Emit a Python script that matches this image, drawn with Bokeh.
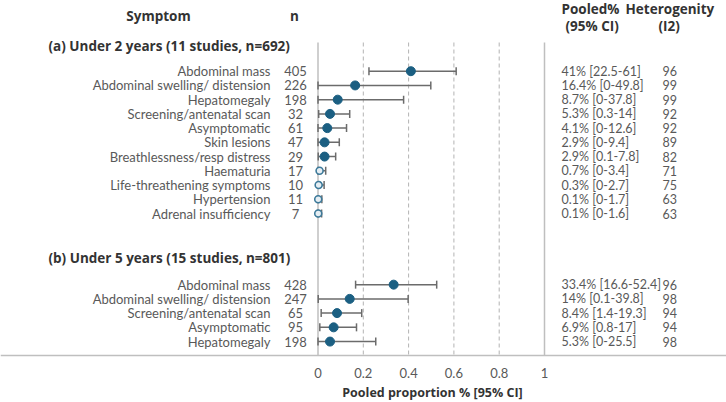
from bokeh.plotting import figure
from bokeh.models import Range1d, ColumnDataSource
from bokeh.core.properties import value
from bokeh.embed import file_html
from bokeh.resources import INLINE

# ---------------- data ----------------
symptoms_a = ["Abdominal mass", "Abdominal swelling/ distension", "Hepatomegaly",
              "Screening/antenatal scan", "Asymptomatic", "Skin lesions",
              "Breathlessness/resp distress", "Haematuria", "Life-threathening symptoms",
              "Hypertension", "Adrenal insufficiency"]
n_a = [405, 226, 198, 32, 61, 47, 29, 17, 10, 11, 7]
pooled_a = [41, 16.4, 8.7, 5.3, 4.1, 2.9, 2.9, 0.7, 0.3, 0.1, 0.1]
lo_a = [22.5, 0, 0, 0.3, 0, 0, 0.1, 0, 0, 0, 0]
hi_a = [61, 49.8, 37.8, 14, 12.6, 9.4, 7.8, 3.4, 2.7, 1.7, 1.6]
i2_a = [96, 99, 99, 92, 92, 89, 82, 71, 75, 63, 63]

symptoms_b = ["Abdominal mass", "Abdominal swelling/ distension", "Screening/antenatal scan",
              "Asymptomatic", "Hepatomegaly"]
n_b = [428, 247, 65, 95, 198]
pooled_b = [33.4, 14, 8.4, 6.9, 5.3]
lo_b = [16.6, 0.1, 1.4, 0.8, 0]
hi_b = [52.4, 39.8, 19.3, 17, 25.5]
i2_b = [96, 98, 94, 94, 98]

ticks = [0, 0.2, 0.4, 0.6, 0.8, 1]
tick_labels = ["0", "0.2", "0.4", "0.6", "0.8", "1"]

title_a = "(a) Under 2 years (11 studies, n=692)"
title_b = "(b) Under 5 years (15 studies, n=801)"
x_title = "Pooled proportion % [95% CI]"

# ---------------- layout helpers ----------------
W, H = 726, 402
X0_PX, X1_PX = 317.5, 544.0          # pixel positions of 0 and 1
PPU = X1_PX - X0_PX


def px2x(px):
    return (px - X0_PX) / PPU


ROW0_PX, ROW_STEP = 70.7, 14.23      # row index -> pixel


def px2y(py):
    return (py - ROW0_PX) / ROW_STEP


B_START = 15

rows_y = list(range(len(symptoms_a))) + [B_START + i for i in range(len(symptoms_b))]
labels = symptoms_a + symptoms_b
ns = n_a + n_b
pooled = pooled_a + pooled_b
lo = lo_a + lo_b
hi = hi_a + hi_b
i2 = i2_a + i2_b


def fmt(v):
    return f"{v:g}"


ci_text = [f"{fmt(p)}% [{fmt(l)}-{fmt(h)}]" for p, l, h in zip(pooled, lo, hi)]

src = ColumnDataSource(dict(
    y=rows_y, label=labels, n=[str(v) for v in ns],
    est=[v / 100 for v in pooled], lo=[v / 100 for v in lo], hi=[v / 100 for v in hi],
    ci=ci_text, i2=[str(v) for v in i2],
))
filled_idx = [i for i, v in enumerate(pooled) if v >= 1]
open_idx = [i for i, v in enumerate(pooled) if v < 1]


def sub(idx):
    d = {k: [src.data[k][i] for i in idx] for k in src.data}
    return ColumnDataSource(d)


p = figure(width=W, height=H, output_backend="svg", toolbar_location=None,
           x_range=Range1d(px2x(0), px2x(W)), y_range=Range1d(px2y(H), px2y(0)),
           min_border=0, outline_line_color=None, background_fill_color="white")
p.axis.visible = False
p.grid.visible = False

FONT = value("Lato")
BFONT = value("Open Sans")
TXT = "#595959"
BOLD = "#333333"

y_top = px2y(42)
y_bot = px2y(355)

# vertical reference lines
solid = [t for t in ticks if t in (0, 1)]
dashed = [t for t in ticks if t not in (0, 1)]
p.segment(x0=dashed, x1=dashed, y0=[y_top] * len(dashed), y1=[y_bot] * len(dashed),
          line_color="#b3b3b3", line_width=1, line_dash="4 3")
p.segment(x0=solid, x1=solid, y0=[y_top] * len(solid), y1=[y_bot] * len(solid),
          line_color="#bfbfbf", line_width=1.5)
# bottom baseline across the full width
p.segment(x0=[px2x(0)], x1=[px2x(W)], y0=[y_bot], y1=[y_bot], line_color="#bfbfbf", line_width=1.5)

# error bars
ECOL = "#6b6b6b"
p.segment(x0="lo", x1="hi", y0="y", y1="y", source=src, line_color=ECOL, line_width=1.5)
cap = 4 / ROW_STEP
cap_src = ColumnDataSource(dict(
    x=src.data["lo"] + src.data["hi"],
    y0=[y - cap for y in rows_y] * 2,
    y1=[y + cap for y in rows_y] * 2,
))
p.segment(x0="x", x1="x", y0="y0", y1="y1", source=cap_src, line_color=ECOL, line_width=1.5)

# point estimates
MCOL = "#1b5f82"
p.scatter(x="est", y="y", source=sub(filled_idx), size=9, fill_color=MCOL, line_color=MCOL)
p.scatter(x="est", y="y", source=sub(open_idx), size=7, fill_color="#e6eef3",
          line_color="#3d7a9a", line_width=1.6)

# row labels and table columns
for col, xpx, align, fs in (("label", 270, "right", "13px"), ("n", 295, "center", "13px"),
                            ("ci", 561, "left", "12.5px"), ("i2", 662, "left", "12.5px")):
    p.text(x=px2x(xpx), y="y", text=col, source=src, text_align=align, text_baseline="middle",
           text_font=FONT, text_font_size=fs, text_color=TXT)


# headers
def bold_text(px, py, s, align="left", size="13.5px"):
    p.text(x=[px2x(px)], y=[px2y(py)], text=[s], text_align=align, text_baseline="middle",
           text_font=BFONT, text_font_size=size, text_font_style="bold", text_color=BOLD)


bold_text(158, 15, "Symptom", "center")
bold_text(294, 15, "n", "center")
bold_text(48, 45, title_a)
bold_text(48, 257, title_b)
bold_text(561, 8, "Pooled%")
bold_text(625, 8, "Heterogenity")
bold_text(565, 25, "(95% CI)")
bold_text(658, 25, "(I2)")
bold_text(432, 392, x_title, "center", "12.5px")

# tick labels
p.text(x=ticks, y=[px2y(372)] * len(ticks), text=tick_labels, text_align="center",
       text_baseline="middle", text_font=FONT, text_font_size="13px", text_color=TXT)

open("out.html", "w").write(file_html(p, INLINE))
